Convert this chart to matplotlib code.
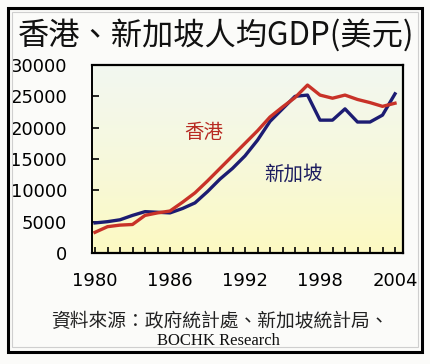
import numpy as np
import matplotlib
matplotlib.use("Agg")
import matplotlib.pyplot as plt
from matplotlib.patches import Rectangle

plt.rcParams['font.family'] = ['Noto Sans CJK TC', 'DejaVu Sans']

# data
years = list(range(1980, 2005))
hk_gdp = [3300, 4200, 4450, 4550, 6000, 6400, 6700, 8100, 9600, 11500,
          13500, 15500, 17500, 19500, 21700, 23300, 24800, 26800, 25200,
          24700, 25200, 24500, 24000, 23400, 23900]
sg_gdp = [4800, 5000, 5300, 6000, 6600, 6500, 6400, 7100, 8000, 9800,
          11800, 13500, 15500, 18000, 21000, 23000, 25000, 25200, 21200,
          21200, 23000, 20900, 20900, 22000, 25400]
x_ticks = [1980, 1986, 1992, 1998, 2004]
y_ticks = [0, 5000, 10000, 15000, 20000, 25000, 30000]

title = "香港、新加坡人均GDP(美元)"
source1 = "資料來源：政府統計處、新加坡統計局、"
source2 = "BOCHK Research"

W, H = 430, 364
fig = plt.figure(figsize=(W / 100, H / 100), dpi=100)
fig.patch.set_facecolor('#fbfbf9')

def fx(px):
    return px / W

def fy(py):
    return 1 - py / H

# frames
fig.patches.append(Rectangle((fx(8), fy(352)), fx(422) - fx(8), fy(8) - fy(352),
                             transform=fig.transFigure, fill=False,
                             edgecolor='black', linewidth=2.2, zorder=0))
fig.patches.append(Rectangle((fx(12), fy(347)), fx(418) - fx(12), fy(12) - fy(347),
                             transform=fig.transFigure, fill=False,
                             edgecolor='#cfcfcf', linewidth=0.8, zorder=0))

ax = fig.add_axes([fx(92), fy(253), fx(403) - fx(92), fy(65) - fy(253)])

# background gradient: pale at top, cream yellow at bottom
grad = np.linspace(0, 1, 256).reshape(-1, 1)
top = np.array([0.95, 0.97, 0.94])
bot = np.array([0.99, 0.98, 0.76])
img = top + (bot - top) * grad[..., None] ** 1.2
img = img.reshape(256, 1, 3)
ax.imshow(img, extent=[1979.76, 2004.64, 0, 30000], aspect='auto', zorder=0)
ax.set_xlim(1979.76, 2004.64)
ax.set_ylim(0, 30000)

ax.plot(years, sg_gdp, color='#1c1c72', linewidth=2.4, zorder=3)
ax.plot(years, hk_gdp, color='#c83228', linewidth=2.4, zorder=4)

for s in ax.spines.values():
    s.set_color('black')
    s.set_linewidth(1.6)
ax.spines['left'].set_linewidth(1.4)

ax.set_xticks(x_ticks)
ax.set_xticks(years, minor=True)
ax.set_yticks(y_ticks)
ax.tick_params(axis='x', which='both', direction='in', length=4, width=1.2,
               labelsize=13, pad=14)
ax.tick_params(axis='y', direction='in', length=5, width=1.2, labelsize=13, pad=18)
ax.tick_params(axis='y', which='minor', left=False)
for lab in ax.get_xticklabels() + ax.get_yticklabels():
    lab.set_family('DejaVu Sans')

ax.text(1988.7, 19300, "香港", color='#b82a22', fontsize=14,
        ha='center', va='center')
ax.text(1995.9, 12600, "新加坡", color='#1c1c60', fontsize=14,
        ha='center', va='center')

fig.text(fx(216), fy(35), title, fontsize=22.5, ha='center', va='center', color='#111111')
fig.text(fx(220), fy(322), source1, fontsize=13.5, ha='center', va='center',
         color='#222222', fontweight='medium')
fig.text(fx(218), fy(341), source2, fontsize=12, ha='center', va='center',
         family='Liberation Serif', color='#111111')

fig.savefig('out.png', dpi=100, facecolor=fig.get_facecolor())
